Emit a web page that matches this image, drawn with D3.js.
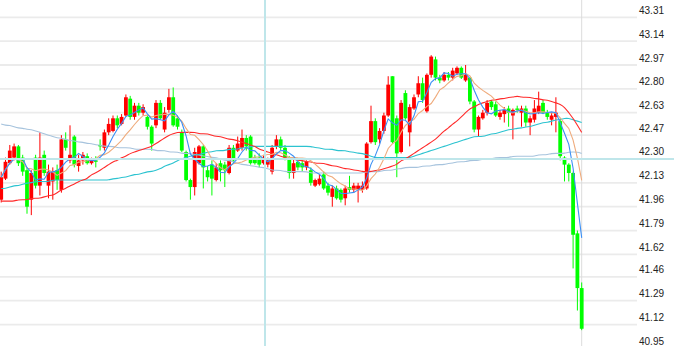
<!DOCTYPE html>
<html>
<head>
<meta charset="utf-8">
<script src="https://cdn.jsdelivr.net/npm/d3@7"></script>
<style>
  body { margin: 0; background: #fff; }
  svg { display: block; }
</style>
</head>
<body>
<svg></svg>
<script>
const w = 674;
const h = 346;

// candle data, one entry per bar, left to right
const openP = [
  42.01, 42.16, 42.27, 42.31, 42.39, 42.31, 42.22, 42.01, 42.31, 42.11,
  42.33, 42.11, 42.14, 42.22, 42.08, 42.44, 42.29, 42.46, 42.25, 42.29,
  42.32, 42.27, 42.29, 42.40, 42.38, 42.49, 42.50, 42.59, 42.55, 42.61,
  42.73, 42.60, 42.68, 42.63, 42.60, 42.53, 42.54, 42.70, 42.51, 42.65,
  42.74, 42.59, 42.49, 42.35, 42.15, 42.10, 42.27, 42.39, 42.22, 42.26,
  42.15, 42.27, 42.26, 42.20, 42.38, 42.36, 42.38, 42.45, 42.46, 42.31,
  42.31, 42.27, 42.26, 42.21, 42.39, 42.44, 42.38, 42.31, 42.20, 42.28,
  42.27, 42.24, 42.22, 42.11, 42.12, 42.19, 42.11, 42.03, 42.09, 42.08,
  42.02, 42.10, 42.08, 42.08, 42.08, 42.09, 42.42, 42.57, 42.44, 42.50,
  42.61, 42.89, 42.59, 42.35, 42.77, 42.49, 42.66, 42.76, 42.84, 42.64,
  42.90, 43.01, 42.88, 42.86, 42.90, 42.88, 42.91, 42.95, 42.86, 42.88,
  42.71, 42.51, 42.59, 42.63, 42.71, 42.69, 42.60, 42.62, 42.66, 42.61,
  42.66, 42.63, 42.66, 42.56, 42.58, 42.63, 42.70, 42.63, 42.58, 42.60,
  42.57, 42.31, 42.26, 42.20, 41.77, 41.38
];
const closeP = [
  42.17, 42.28, 42.36, 42.39, 42.27, 42.21, 41.96, 42.20, 42.11, 42.31,
  42.20, 42.21, 42.21, 42.15, 42.44, 42.38, 42.33, 42.26, 42.29, 42.33,
  42.27, 42.29, 42.28, 42.39, 42.49, 42.55, 42.59, 42.54, 42.60, 42.74,
  42.60, 42.68, 42.63, 42.67, 42.53, 42.41, 42.70, 42.59, 42.63, 42.74,
  42.54, 42.53, 42.36, 42.15, 42.10, 42.35, 42.39, 42.24, 42.17, 42.16,
  42.24, 42.22, 42.22, 42.38, 42.29, 42.41, 42.45, 42.39, 42.27, 42.27,
  42.26, 42.31, 42.29, 42.38, 42.44, 42.38, 42.31, 42.20, 42.27, 42.24,
  42.24, 42.28, 42.13, 42.15, 42.16, 42.09, 42.06, 42.09, 42.02, 42.01,
  42.09, 42.08, 42.11, 42.11, 42.11, 42.41, 42.57, 42.42, 42.50, 42.61,
  42.83, 42.42, 42.34, 42.70, 42.59, 42.67, 42.74, 42.84, 42.72, 42.90,
  43.03, 42.88, 42.86, 42.90, 42.88, 42.93, 42.95, 42.88, 42.90, 42.71,
  42.51, 42.60, 42.63, 42.70, 42.67, 42.61, 42.63, 42.65, 42.63, 42.65,
  42.65, 42.66, 42.56, 42.59, 42.66, 42.68, 42.63, 42.60, 42.61, 42.63,
  42.32, 42.26, 42.20, 41.76, 41.38, 41.09
];
const highP = [
  42.21, 42.31, 42.40, 42.41, 42.40, 42.33, 42.24, 42.22, 42.33, 42.49,
  42.36, 42.26, 42.24, 42.26, 42.47, 42.49, 42.54, 42.47, 42.33, 42.35,
  42.34, 42.31, 42.32, 42.44, 42.51, 42.59, 42.61, 42.61, 42.62, 42.76,
  42.75, 42.70, 42.70, 42.69, 42.61, 42.54, 42.72, 42.72, 42.67, 42.80,
  42.81, 42.61, 42.51, 42.36, 42.16, 42.38, 42.40, 42.40, 42.25, 42.29,
  42.27, 42.29, 42.28, 42.40, 42.40, 42.46, 42.51, 42.47, 42.47, 42.33,
  42.34, 42.33, 42.31, 42.40, 42.47, 42.46, 42.40, 42.32, 42.31, 42.29,
  42.29, 42.29, 42.24, 42.16, 42.19, 42.21, 42.13, 42.11, 42.11, 42.09,
  42.11, 42.18, 42.13, 42.13, 42.14, 42.42, 42.68, 42.59, 42.52, 42.63,
  42.89, 42.89, 42.61, 42.72, 42.79, 42.69, 42.76, 42.89, 42.88, 42.91,
  43.04, 43.03, 42.90, 42.92, 42.92, 42.95, 42.96, 42.96, 42.97, 42.88,
  42.72, 42.61, 42.65, 42.72, 42.72, 42.71, 42.65, 42.67, 42.68, 42.66,
  42.68, 42.68, 42.68, 42.61, 42.72, 42.78, 42.72, 42.65, 42.63, 42.74,
  42.59, 42.32, 42.27, 42.21, 41.79, 41.42
];
const lowP = [
  41.99, 42.15, 42.26, 42.29, 42.25, 42.18, 41.91, 41.90, 42.09, 42.04,
  42.18, 42.02, 42.01, 42.08, 42.06, 42.36, 42.27, 42.24, 42.21, 42.26,
  42.26, 42.26, 42.24, 42.36, 42.36, 42.47, 42.49, 42.52, 42.54, 42.60,
  42.58, 42.58, 42.61, 42.61, 42.51, 42.36, 42.52, 42.58, 42.49, 42.63,
  42.53, 42.51, 42.35, 42.14, 42.01, 42.04, 42.26, 42.09, 42.14, 42.04,
  42.14, 42.14, 42.10, 42.19, 42.27, 42.35, 42.36, 42.36, 42.26, 42.26,
  42.24, 42.26, 42.24, 42.19, 42.37, 42.36, 42.29, 42.16, 42.16, 42.22,
  42.21, 42.22, 42.11, 42.10, 42.11, 42.08, 42.04, 41.96, 42.01, 41.99,
  41.97, 42.06, 42.06, 41.99, 42.06, 42.08, 42.41, 42.40, 42.41, 42.48,
  42.60, 42.41, 42.17, 42.34, 42.58, 42.39, 42.65, 42.74, 42.70, 42.63,
  42.88, 42.86, 42.84, 42.85, 42.86, 42.86, 42.90, 42.87, 42.85, 42.69,
  42.49, 42.46, 42.58, 42.61, 42.65, 42.60, 42.58, 42.56, 42.53, 42.44,
  42.63, 42.53, 42.53, 42.47, 42.56, 42.62, 42.62, 42.58, 42.54, 42.49,
  42.29, 42.14, 42.14, 41.52, 41.22, 41.08
];

// longer averages
const ma30 = [
  42.00, 42.00, 42.00, 42.00, 42.01, 42.01, 42.01, 42.02, 42.02, 42.02,
  42.03, 42.04, 42.04, 42.06, 42.08, 42.09, 42.11, 42.12, 42.14, 42.15,
  42.16, 42.19, 42.20, 42.22, 42.24, 42.26, 42.28, 42.29, 42.31, 42.32,
  42.34, 42.35, 42.36, 42.37, 42.38, 42.39, 42.41, 42.43, 42.45, 42.47,
  42.48, 42.49, 42.49, 42.49, 42.49, 42.49, 42.48, 42.48, 42.48, 42.47,
  42.46, 42.46, 42.45, 42.44, 42.44, 42.43, 42.42, 42.41, 42.40, 42.39,
  42.37, 42.36, 42.35, 42.34, 42.33, 42.32, 42.31, 42.30, 42.30, 42.29,
  42.29, 42.28, 42.28, 42.27, 42.27, 42.27, 42.26, 42.25, 42.25, 42.24,
  42.23, 42.23, 42.22, 42.22, 42.21, 42.21, 42.21, 42.22, 42.22, 42.23,
  42.24, 42.25, 42.26, 42.29, 42.30, 42.32, 42.34, 42.36, 42.38, 42.40,
  42.42, 42.44, 42.47, 42.50, 42.52, 42.55, 42.57, 42.60, 42.63, 42.66,
  42.67, 42.69, 42.70, 42.71, 42.72, 42.72, 42.73, 42.73, 42.74, 42.74,
  42.75, 42.74, 42.74, 42.74, 42.73, 42.73, 42.72, 42.72, 42.71, 42.70,
  42.69, 42.67, 42.63, 42.59, 42.54, 42.49
];
const ma60 = [
  42.09, 42.09, 42.10, 42.11, 42.11, 42.12, 42.13, 42.13, 42.14, 42.14,
  42.14, 42.14, 42.15, 42.15, 42.15, 42.15, 42.15, 42.15, 42.15, 42.15,
  42.15, 42.15, 42.15, 42.15, 42.15, 42.15, 42.16, 42.16, 42.17, 42.17,
  42.18, 42.19, 42.19, 42.20, 42.21, 42.21, 42.22, 42.23, 42.25, 42.26,
  42.27, 42.29, 42.30, 42.31, 42.32, 42.33, 42.33, 42.34, 42.35, 42.35,
  42.36, 42.36, 42.36, 42.37, 42.37, 42.37, 42.38, 42.38, 42.39, 42.39,
  42.39, 42.39, 42.39, 42.39, 42.39, 42.39, 42.39, 42.39, 42.39, 42.39,
  42.39, 42.39, 42.39, 42.38, 42.38, 42.37, 42.37, 42.37, 42.36, 42.36,
  42.36, 42.35, 42.35, 42.34, 42.34, 42.33, 42.32, 42.31, 42.31, 42.31,
  42.31, 42.31, 42.31, 42.31, 42.31, 42.31, 42.32, 42.33, 42.34, 42.35,
  42.36, 42.37, 42.38, 42.39, 42.40, 42.41, 42.42, 42.43, 42.44, 42.45,
  42.46, 42.46, 42.46, 42.47, 42.48, 42.48, 42.49, 42.50, 42.51, 42.51,
  42.52, 42.52, 42.53, 42.53, 42.54, 42.55, 42.56, 42.56, 42.57, 42.58,
  42.58, 42.59, 42.59, 42.58, 42.57, 42.56
];
const ma120 = [
  42.55, 42.54, 42.54, 42.53, 42.52, 42.52, 42.51, 42.51, 42.50, 42.49,
  42.48, 42.47, 42.46, 42.45, 42.45, 42.44, 42.43, 42.43, 42.42, 42.42,
  42.41, 42.41, 42.40, 42.40, 42.39, 42.39, 42.39, 42.38, 42.38, 42.38,
  42.38, 42.37, 42.37, 42.37, 42.37, 42.37, 42.36, 42.36, 42.36, 42.35,
  42.35, 42.35, 42.34, 42.34, 42.34, 42.33, 42.33, 42.32, 42.32, 42.31,
  42.31, 42.30, 42.29, 42.29, 42.28, 42.27, 42.26, 42.26, 42.25, 42.25,
  42.24, 42.24, 42.23, 42.22, 42.22, 42.22, 42.21, 42.21, 42.21, 42.21,
  42.21, 42.21, 42.20, 42.20, 42.20, 42.20, 42.20, 42.20, 42.20, 42.20,
  42.20, 42.20, 42.20, 42.20, 42.20, 42.21, 42.21, 42.21, 42.21, 42.22,
  42.22, 42.22, 42.23, 42.23, 42.24, 42.24, 42.24, 42.24, 42.25, 42.25,
  42.25, 42.26, 42.26, 42.26, 42.27, 42.27, 42.28, 42.28, 42.28, 42.29,
  42.29, 42.29, 42.30, 42.30, 42.30, 42.31, 42.31, 42.31, 42.31, 42.32,
  42.32, 42.32, 42.32, 42.32, 42.32, 42.33, 42.33, 42.33, 42.34, 42.34,
  42.34, 42.34, 42.35, 42.35, 42.35, 42.34
];

const yTicks = [43.31, 43.14, 42.97, 42.80, 42.63, 42.47, 42.30, 42.13,
  41.96, 41.79, 41.62, 41.46, 41.29, 41.12, 40.95];

// cursor position
const crossIndex = 61.35;
const crossPrice = 42.30;

const svg = d3.select('svg').attr('width', w).attr('height', h);

const x = d3.scaleLinear().domain([0, openP.length - 1]).range([1.2, 581.7]);
const y = d3.scaleLinear().domain([40.95, 43.31]).range([348.4, 17.3]);
const plotRight = 637;

// short averages from the closes
const movingAvg = (arr, n) =>
  arr.map((d, i) => d3.mean(arr.slice(Math.max(0, i - n + 1), i + 1)));
const ma5 = movingAvg(closeP, 5);
const ma10 = movingAvg(closeP, 10);

svg
  .append('g')
  .selectAll('line')
  .data(yTicks)
  .enter()
  .append('line')
  .attr('x1', 0)
  .attr('x2', plotRight)
  .attr('y1', d => y(d))
  .attr('y2', d => y(d))
  .attr('stroke', '#ebebeb')
  .attr('stroke-width', 1.8);

svg
  .append('g')
  .selectAll('text')
  .data(yTicks)
  .enter()
  .append('text')
  .text(d => d.toFixed(2))
  .attr('x', 639)
  .attr('y', d => y(d) - 3.5)
  .style('font-family', '"Liberation Sans", Arial, sans-serif')
  .style('font-size', '10px')
  .attr('fill', '#222');

// last bar marker
svg
  .append('line')
  .attr('x1', x(openP.length - 1))
  .attr('x2', x(openP.length - 1))
  .attr('y1', 0)
  .attr('y2', h)
  .attr('stroke', '#dcdcdc')
  .attr('stroke-width', 1);

const idx = d3.range(openP.length);
const bw = 3.8;

const candles = svg.append('g');
candles
  .selectAll('line')
  .data(idx)
  .enter()
  .append('line')
  .attr('x1', i => x(i))
  .attr('x2', i => x(i))
  .attr('y1', i => y(highP[i]))
  .attr('y2', i => y(lowP[i]))
  .attr('stroke', i => (closeP[i] >= openP[i] ? '#ff0000' : '#00ff00'))
  .attr('stroke-width', 1);

candles
  .selectAll('rect')
  .data(idx)
  .enter()
  .append('rect')
  .attr('x', i => x(i) - bw / 2)
  .attr('y', i => y(Math.max(openP[i], closeP[i])))
  .attr('width', bw)
  .attr('height', i => Math.max(1, Math.abs(y(openP[i]) - y(closeP[i]))))
  .attr('fill', i => (closeP[i] >= openP[i] ? '#ff0000' : '#00ff00'));

const smooth = d3
  .line()
  .x((d, i) => x(i))
  .y(d => y(d))
  .curve(d3.curveBasis);
const straight = d3
  .line()
  .x((d, i) => x(i))
  .y(d => y(d));

const lines = [
  [ma120, '#a6c3dd', smooth],
  [ma60, '#2cc3d0', smooth],
  [ma30, '#ff2a2a', smooth],
  [ma10, '#efab7c', straight],
  [ma5, '#3a8ff5', straight]
];
lines.forEach(([data, color, gen]) => {
  svg
    .append('path')
    .attr('d', gen(data))
    .attr('fill', 'none')
    .attr('stroke', color)
    .attr('stroke-width', 1.1);
});

// crosshair
svg
  .append('line')
  .attr('x1', x(crossIndex))
  .attr('x2', x(crossIndex))
  .attr('y1', 0)
  .attr('y2', h)
  .attr('stroke', '#bfe6ea')
  .attr('stroke-width', 2);

svg
  .append('line')
  .attr('x1', 0)
  .attr('x2', w)
  .attr('y1', y(crossPrice))
  .attr('y2', y(crossPrice))
  .attr('stroke', '#bfe6ea')
  .attr('stroke-width', 2);
</script>
</body>
</html>
